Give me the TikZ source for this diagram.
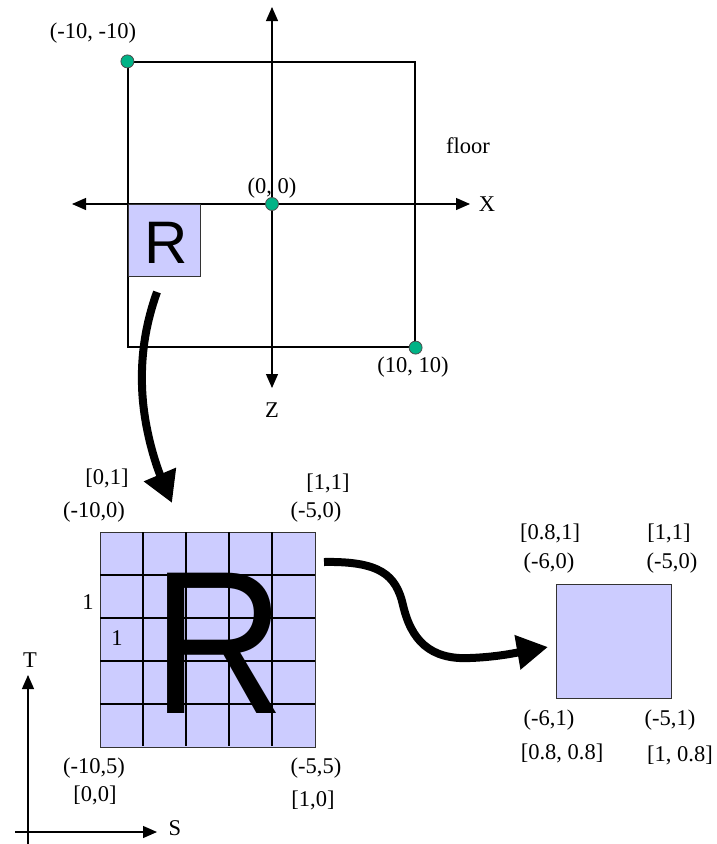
\documentclass[tikz,border=0pt]{standalone}
\usepackage{fontspec}
\setmainfont{Liberation Serif}
\newfontfamily\letterfont{Liberation Sans}
\usetikzlibrary{arrows.meta}
\definecolor{lilac}{HTML}{CCCCFF}
\definecolor{mint}{HTML}{00B386}

\begin{document}
\begin{tikzpicture}[x=1pt,y=-1pt,
 lbl/.style={font=\fontsize{22.5}{24}\selectfont,inner sep=0pt},
 axis/.style={draw=black,line width=1.2pt,
 {Triangle[length=14pt,width=12pt]}-{Triangle[length=14pt,width=12pt]}},
 oneway/.style={draw=black,line width=1.2pt,-{Triangle[length=14pt,width=12pt]}},
 dot/.style={circle,draw=black!70,fill=mint,line width=0.8pt,
 minimum size=13pt,inner sep=0pt},
 tile/.style={draw=black!80,fill=lilac,line width=1.2pt,inner sep=0pt},
 gridline/.style={draw=black,line width=1.2pt},
 bigarr/.style={draw=black,line width=8pt,-{Triangle[length=31pt,width=33pt]}}]
\useasboundingbox (0,0) rectangle (716,844);
% floor with its axes
\node[draw,line width=1.2pt,minimum width=287pt,minimum height=285pt,
 inner sep=0pt] (floor) at (271.5,204.5) {};
\coordinate (xl) at (72,204);
\coordinate (xr) at (470,204);
\coordinate (zt) at (272,7);
\coordinate (zb) at (272,388);
\draw[axis] (xl)--(xr);
\draw[axis] (zt)--(zb);
\node[tile,minimum size=72pt,anchor=north west] (rsmall) at (128,204) {};
\node[font=\letterfont\fontsize{60}{60}\selectfont,anchor=base,inner sep=0pt]
 (rsmallR) at (166,263) {R};
\node[dot] (pnw) at (floor.north west) {};
\node[dot] (pori) at (272,204) {};
\node[dot] (pse) at (floor.south east) {};
\node[lbl] (lnw) at (93,33) {(-10, -10)};
\node[lbl] (lori) at (272,188) {(0, 0)};
\node[lbl] (lse) at (413,367) {(10, 10)};
\node[lbl] (lfloor) at (468,146) {floor};
\node[lbl] (lx) at (487,204) {X};
\node[lbl] (lz) at (272,410) {Z};
% texture grid
\node[tile,minimum size=215pt,anchor=north west] (grid) at (100,532) {};
\node[font=\letterfont\fontsize{204}{204}\selectfont,anchor=base,inner sep=0pt]
 (gridR) at (219,713) {\scalebox{0.9}[1]{R}};
\foreach \k in {1,...,4}{
 \draw[gridline] (100+43*\k,532)--(100+43*\k,746);
 \draw[gridline] (100,532+43*\k)--(315,532+43*\k);
}
\node[lbl] (gtl1) at (107,478) {[0,1]};
\node[lbl] (gtl2) at (94,512) {(-10,0)};
\node[lbl] (gtr1) at (328,483) {[1,1]};
\node[lbl] (gtr2) at (316,512) {(-5,0)};
\node[lbl] (gone1) at (88,602) {1};
\node[lbl] (gone2) at (117,638) {1};
\node[lbl] (gbl1) at (94,768) {(-10,5)};
\node[lbl] (gbl2) at (95,795) {[0,0]};
\node[lbl] (gbr1) at (316,768) {(-5,5)};
\node[lbl] (gbr2) at (313,800) {[1,0]};
% S-T axes
\coordinate (tb) at (28,844);
\coordinate (tt) at (28,675);
\coordinate (sl) at (15,832);
\coordinate (sr) at (157,832);
\draw[oneway] (tb)--(tt);
\draw[oneway] (sl)--(sr);
\node[lbl] (lt) at (30,660) {T};
\node[lbl] (ls) at (175,828) {S};
% sub texture
\node[tile,minimum width=115pt,minimum height=114pt,anchor=north west]
 (sub) at (556,584) {};
\node[lbl] (stl1) at (550,533) {[0.8,1]};
\node[lbl] (stl2) at (549,563) {(-6,0)};
\node[lbl] (str1) at (669,533) {[1,1]};
\node[lbl] (str2) at (672,563) {(-5,0)};
\node[lbl] (sbl1) at (549,720) {(-6,1)};
\node[lbl] (sbl2) at (562,753) {[0.8, 0.8]};
\node[lbl] (sbr1) at (670,720) {(-5,1)};
\node[lbl] (sbr2) at (680,755) {[1, 0.8]};
% mapping arrows
\coordinate (a1s) at (157,292);
\coordinate (a1e) at (172,503);
\coordinate (a2s) at (324,562);
\coordinate (a2e) at (548,647);
\draw[bigarr] (a1s) .. controls (147,320) and (141,350) .. (142,385)
 .. controls (143,430) and (158,470) .. (a1e);
\draw[bigarr] (a2s) .. controls (380,561) and (396,575) .. (403,605)
 .. controls (411,640) and (430,660) .. (470,658)
 .. controls (500,657) and (525,651) .. (a2e);
\end{tikzpicture}
\end{document}
